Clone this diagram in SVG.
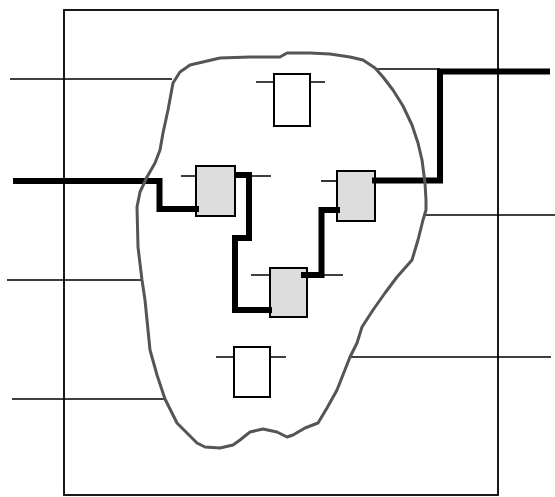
<svg xmlns="http://www.w3.org/2000/svg" width="555" height="497" viewBox="0 0 555 497">
<style>
.thin{stroke:#000;stroke-width:1.6;fill:none}
.thick{stroke:#000;stroke-width:6;fill:none;stroke-linejoin:miter}
.blob{stroke:#555;stroke-width:3;fill:none;stroke-linejoin:round}
.gate{stroke:#000;stroke-width:2}
.pin{stroke:#000;stroke-width:1.6}
</style>
<rect width="555" height="497" fill="#fff"/>
<g id="chip">
<rect x="64" y="10" width="434" height="485" fill="none" stroke="#000" stroke-width="1.8"/>
</g>
<g id="connectors">
<line class="thin" x1="10" y1="79" x2="172" y2="79"/>
<line class="thin" x1="7" y1="280" x2="141" y2="280"/>
<line class="thin" x1="12" y1="399" x2="164" y2="399"/>
<line class="thin" x1="377" y1="69" x2="440" y2="69"/>
<line class="thin" x1="423" y1="215" x2="555" y2="215"/>
<line class="thin" x1="351" y1="357" x2="551" y2="357"/>
<polyline class="thick" points="13,181 159.5,181 159.5,209 198,209"/>
<polyline class="thick" points="233,175 249,175 249,238 235,238 235,310 271,310"/>
<polyline class="thick" points="306,275 321.5,275 321.5,210 340,210"/>
<polyline class="thick" points="374,180.5 440,180.5 440,71.5 550,71.5"/>
</g>
<g id="region">
<path class="blob" d="M173,83 L180,72 190,65 220,58 250,57 280,57 287,53 310,53 330,54 350,57 363,60 375,68 383,77 393,90 403,106 412,125 418,143 422,160 425,183 426,200 426,210 423,220 418,240 412,260 397,277 385,293 373,310 362,327 357,343 350,357 337,390 327,408 318,423 305,428 293,435 287,437 277,432 263,429 250,432 240,440 233,445 220,448 205,447 197,443 187,433 177,423 165,399 157,375 150,350 147,320 145,300 142,280 138,247 137,207 140,192 147,177 155,163 160,150 163,133 168,110 Z"/>
</g>
<g id="gate-top">
<line class="pin" x1="256" y1="82" x2="325" y2="82"/>
<rect class="gate" x="274" y="74" width="36" height="52" fill="#fff"/>
</g>
<g id="gate-left">
<line class="pin" x1="181" y1="176" x2="271" y2="176"/>
<rect class="gate" x="196" y="166" width="39" height="50" fill="#ddd"/>
</g>
<g id="gate-right">
<line class="pin" x1="321" y1="181" x2="337" y2="181"/>
<rect class="gate" x="337" y="171" width="38" height="50" fill="#ddd"/>
</g>
<g id="gate-mid">
<line class="pin" x1="251" y1="275" x2="343" y2="275"/>
<rect class="gate" x="270" y="268" width="37" height="49" fill="#ddd"/>
</g>
<g id="gate-bottom">
<line class="pin" x1="216" y1="357" x2="286" y2="357"/>
<rect class="gate" x="234" y="347" width="36" height="50" fill="#fff"/>
</g>
<g id="wire-stubs">
<line class="thick" x1="235" y1="175" x2="240" y2="175"/>
<line class="thick" x1="301" y1="275" x2="307" y2="275"/>
<line class="thick" x1="372" y1="180.5" x2="376" y2="180.5"/>
<line class="thick" x1="194" y1="209" x2="199" y2="209"/>
<line class="thick" x1="266" y1="310" x2="272" y2="310"/>
<line class="thick" x1="335" y1="210" x2="340" y2="210"/>
</g>
</svg>
